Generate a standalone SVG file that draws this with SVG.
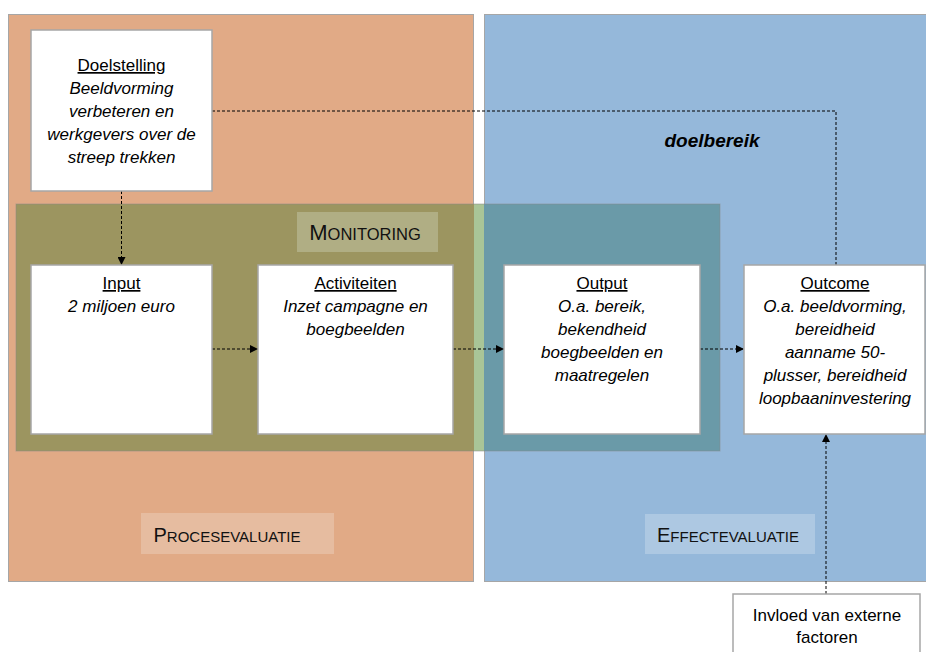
<svg xmlns="http://www.w3.org/2000/svg" width="926" height="652" viewBox="0 0 926 652">
<style>
.t{font-family:"Liberation Sans",Arial,sans-serif;font-size:17px;fill:#000;text-anchor:middle}
.i{font-style:italic}
.u{text-decoration:underline}
.node{fill:#fff;stroke:#A6A6A6;stroke-width:1.5}
.dash{fill:none;stroke:#000;stroke-width:1;stroke-dasharray:3,2}
.sc{font-family:"Liberation Sans",Arial,sans-serif;fill:#111}
</style>
<defs>
<marker id="ah" viewBox="0 0 10 10" refX="10" refY="5" markerWidth="8" markerHeight="8" markerUnits="userSpaceOnUse" orient="auto">
<path d="M0,0 L10,5 L0,10 z" fill="#000"/>
</marker>
</defs>
<rect width="926" height="652" fill="#fff"/>
<g id="panel-proces">
<rect x="8.5" y="14.5" width="465" height="567" fill="#E1AA86" stroke="#A6A6A6" stroke-width="1"/>
<rect x="141" y="513" width="193" height="41" fill="#E6BCA0"/>
<text class="sc" x="227" y="542" text-anchor="middle"><tspan font-size="20">P</tspan><tspan font-size="15">ROCESEVALUATIE</tspan></text>
</g>
<g id="panel-effect">
<rect x="484.5" y="14.5" width="450" height="567" fill="#95B8DA" stroke="#A6A6A6" stroke-width="1"/>
<rect x="645" y="514" width="170" height="40" fill="#ADC8E2"/>
<text class="sc" x="728" y="542" text-anchor="middle"><tspan font-size="20">E</tspan><tspan font-size="15">FFECTEVALUATIE</tspan></text>
</g>
<g id="monitoring">
<rect x="16" y="204" width="458" height="247" fill="#9C9560"/>
<rect x="474" y="204" width="10" height="247" fill="#A9C597"/>
<rect x="484" y="204" width="236" height="247" fill="#6A9AA8"/>
<rect x="16" y="204" width="704" height="247" fill="none" stroke="#8A8A8A" stroke-opacity="0.5" stroke-width="1"/>
<rect x="297" y="212" width="141" height="40" fill="#B0AE84"/>
<text class="sc" x="365" y="240" text-anchor="middle"><tspan font-size="22">M</tspan><tspan font-size="16.5">ONITORING</tspan></text>
</g>
<g id="doelbereik">
<text x="712" y="147" font-family="'Liberation Sans',Arial,sans-serif" font-size="19" font-weight="bold" font-style="italic" text-anchor="middle">doelbereik</text>
</g>
<g id="connectors">
<path class="dash" d="M212,111 H836 V265" stroke="#595959"/>
<path class="dash" d="M121.5,191 V265" marker-end="url(#ah)"/>
<path class="dash" d="M212,349 H258" marker-end="url(#ah)"/>
<path class="dash" d="M453,349 H504" marker-end="url(#ah)"/>
<path class="dash" d="M700,349 H744" marker-end="url(#ah)"/>
<path class="dash" d="M826,594 V434" marker-end="url(#ah)"/>
</g>
<g id="node-doelstelling">
<rect class="node" x="31" y="30" width="181" height="161"/>
<text class="t u" x="121.5" y="71">Doelstelling</text>
<text class="t i" x="121.5" y="94">Beeldvorming</text>
<text class="t i" x="121.5" y="117">verbeteren en</text>
<text class="t i" x="121.5" y="140">werkgevers over de</text>
<text class="t i" x="121.5" y="163">streep trekken</text>
</g>
<g id="node-input">
<rect class="node" x="31" y="265" width="181" height="169"/>
<text class="t u" x="121.5" y="289">Input</text>
<text class="t i" x="121.5" y="312">2 miljoen euro</text>
</g>
<g id="node-activiteiten">
<rect class="node" x="258" y="265" width="195" height="169"/>
<text class="t u" x="355.5" y="289">Activiteiten</text>
<text class="t i" x="355.5" y="312">Inzet campagne en</text>
<text class="t i" x="355.5" y="335">boegbeelden</text>
</g>
<g id="node-output">
<rect class="node" x="504" y="265" width="196" height="169"/>
<text class="t u" x="602" y="289">Output</text>
<text class="t i" x="602" y="312">O.a. bereik,</text>
<text class="t i" x="602" y="335">bekendheid</text>
<text class="t i" x="602" y="358">boegbeelden en</text>
<text class="t i" x="602" y="381">maatregelen</text>
</g>
<g id="node-outcome">
<rect class="node" x="744" y="265" width="181" height="169"/>
<text class="t u" x="835" y="289">Outcome</text>
<text class="t i" x="835" y="312">O.a. beeldvorming,</text>
<text class="t i" x="835" y="335">bereidheid</text>
<text class="t i" x="835" y="358">aanname 50-</text>
<text class="t i" x="835" y="381">plusser, bereidheid</text>
<text class="t i" x="835" y="404">loopbaaninvestering</text>
</g>
<g id="node-extern">
<rect class="node" x="733" y="594" width="187" height="70"/>
<text class="t" x="827" y="621">Invloed van externe</text>
<text class="t" x="827" y="643">factoren</text>
</g>
</svg>
